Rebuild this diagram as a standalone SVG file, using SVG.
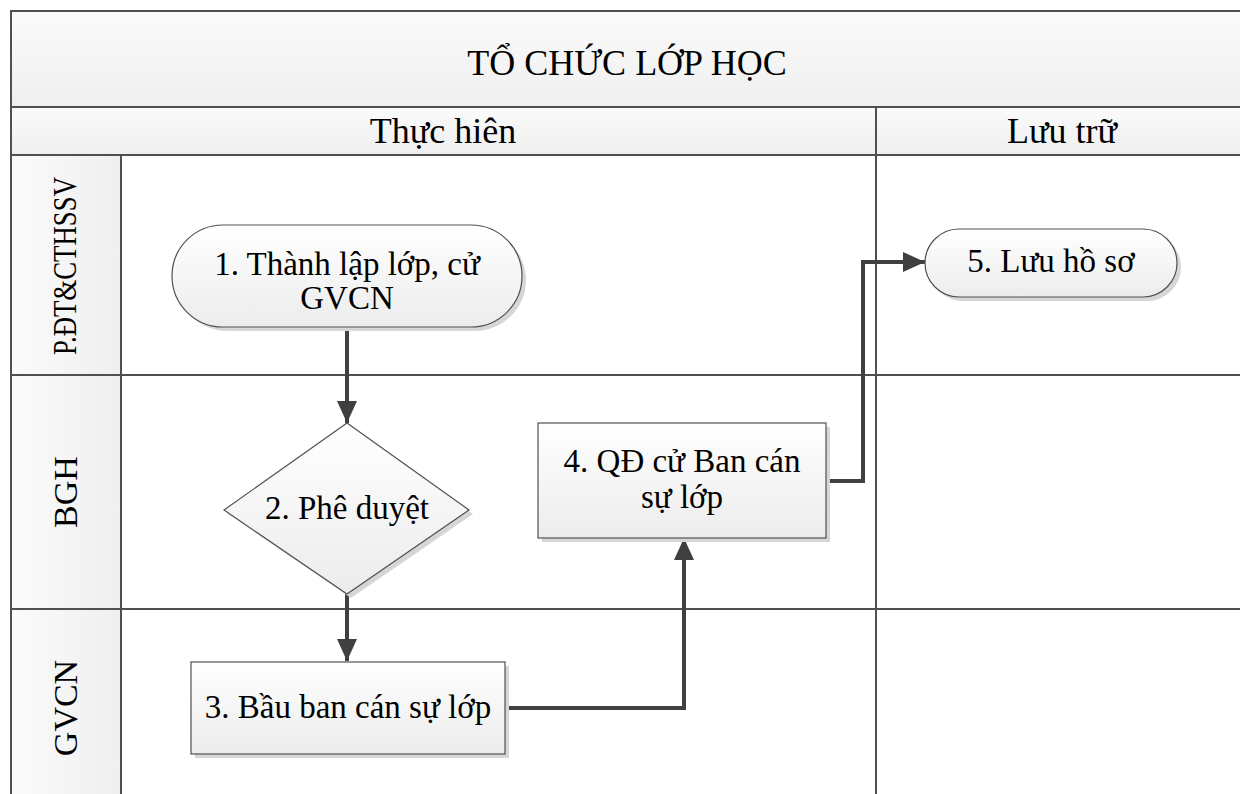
<svg xmlns="http://www.w3.org/2000/svg" width="1240" height="794" viewBox="0 0 1240 794">
<defs>
<linearGradient id="gv" x1="0" y1="0" x2="0" y2="1"><stop offset="0" stop-color="#fbfbfb"/><stop offset="1" stop-color="#efefef"/></linearGradient>
<linearGradient id="gh" x1="0" y1="0" x2="1" y2="0"><stop offset="0" stop-color="#fbfbfb"/><stop offset="1" stop-color="#efefef"/></linearGradient>
<linearGradient id="gn" x1="0" y1="0" x2="0" y2="1"><stop offset="0" stop-color="#ffffff"/><stop offset="1" stop-color="#ececec"/></linearGradient>
<marker id="arr" markerUnits="userSpaceOnUse" markerWidth="22" markerHeight="20" refX="22" refY="10" orient="auto"><path d="M0,0 L22,10 L0,20 Z" fill="#404040"/></marker>
<style>
.t{font-family:'Liberation Serif','Times New Roman',serif;font-size:33px;fill:#000;text-anchor:middle}
.h{font-size:36px}
.lb{font-size:34px}
.ln{stroke:#505050;stroke-width:2;fill:none}
.nd{fill:url(#gn);stroke:#505050;stroke-width:1.2}
.sh{fill:#d6d6d6}
.cn{stroke:#404040;stroke-width:4;fill:none;marker-end:url(#arr)}
</style>
</defs>
<g id="frame">
<rect x="11" y="11" width="1240" height="96" fill="url(#gv)"/>
<rect x="11" y="107" width="1240" height="48" fill="url(#gv)"/>
<rect x="11" y="155" width="110" height="660" fill="url(#gh)"/>
<rect x="121" y="155" width="1130" height="660" fill="#ffffff"/>
<path class="ln" d="M11,810 V11 H1250"/>
<path class="ln" d="M11,107 H1250 M11,155 H1250 M121,155 V810 M876,107 V810 M11,375 H1250 M11,609 H1250"/>
<text class="t h" x="627" y="75">TỔ CHỨC LỚP HỌC</text>
<text class="t h" x="443" y="143">Thực hiên</text>
<text class="t h" x="1062" y="143">Lưu trữ</text>
</g>
<g id="lane-1"><text class="t" x="76" y="266" font-size="30" textLength="178" lengthAdjust="spacingAndGlyphs" transform="rotate(-90 76 266)">P.ĐT&amp;CTHSSV</text></g>
<g id="lane-2"><text class="t lb" x="77" y="492" transform="rotate(-90 77 492)">BGH</text></g>
<g id="lane-3"><text class="t lb" x="77" y="708" transform="rotate(-90 77 708)">GVCN</text></g>
<g id="connectors">
<path class="cn" d="M347,327 V423"/>
<path class="cn" d="M347,594 V661"/>
<path class="cn" d="M505,708 H684 V538"/>
<path class="cn" d="M825,481 H863 V262 H925"/>
</g>
<g id="node-1">
<rect class="sh" x="176" y="229" width="350" height="102" rx="51"/>
<rect class="nd" x="172" y="225" width="350" height="102" rx="51"/>
<text class="t" x="347" y="275">1. Thành lập lớp, cử</text>
<text class="t" x="347" y="309">GVCN</text>
</g>
<g id="node-2">
<polygon class="sh" points="351,427 473,514 351,598 228,514"/>
<polygon class="nd" points="347,423 469,510 347,594 224,510"/>
<text class="t" x="347" y="519">2. Phê duyệt</text>
</g>
<g id="node-3">
<rect class="sh" x="195" y="666" width="314" height="92"/>
<rect class="nd" x="191" y="662" width="314" height="92"/>
<text class="t" x="348" y="718">3. Bầu ban cán sự lớp</text>
</g>
<g id="node-4">
<rect class="sh" x="542" y="427" width="288" height="115"/>
<rect class="nd" x="538" y="423" width="288" height="115"/>
<text class="t" x="682" y="472">4. QĐ cử Ban cán</text>
<text class="t" x="682" y="508">sự lớp</text>
</g>
<g id="node-5">
<rect class="sh" x="929" y="233" width="252" height="68" rx="34"/>
<rect class="nd" x="925" y="229" width="252" height="68" rx="34"/>
<text class="t" x="1051" y="272">5. Lưu hồ sơ</text>
</g>
</svg>
